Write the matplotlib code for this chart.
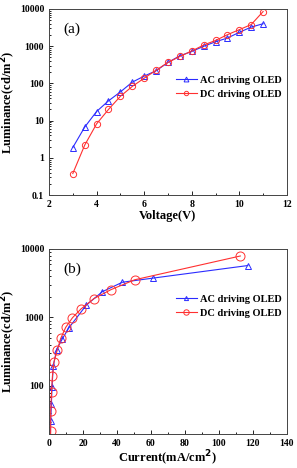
import matplotlib
matplotlib.use('Agg')
import matplotlib.pyplot as plt
from matplotlib.ticker import FixedLocator, FixedFormatter, MultipleLocator, LogLocator, NullFormatter

plt.rcParams['font.family'] = 'Liberation Serif'
plt.rcParams['font.weight'] = 'bold'

# (a) luminance vs voltage
voltage = [3, 3.5, 4, 4.5, 5, 5.5, 6, 6.5, 7, 7.5, 8, 8.5, 9, 9.5, 10, 10.5, 11]
ac_lum_v = [1.9, 6.7, 17.6, 34, 59, 108, 157, 218, 365, 550, 720, 990, 1310, 1650, 2350, 3250, 4000]
dc_lum_v = [0.38, 2.2, 8.2, 20, 45, 83, 138, 225, 365, 530, 740, 1070, 1420, 2030, 2770, 3800, 8500]

# (b) luminance vs current density
ac_current = [0.1, 0.5, 1.0, 1.4, 1.8, 2.5, 4.5, 7.8, 11.6, 22.0, 31.4, 43.2, 61, 117]
ac_lum_i = [3, 12, 31, 54, 98, 195, 340, 485, 700, 1520, 2380, 3270, 3750, 5730]
dc_current = [0.01, 0.1, 0.4, 1.0, 1.0, 1.5, 2.0, 2.9, 4.9, 6.9, 9.8, 13.8, 18.8, 26.5, 36.5, 50.4, 112.6]
dc_lum_i = [0.38, 2.2, 8.2, 22, 43, 83, 138, 223, 336, 495, 715, 990, 1330, 1890, 2550, 3550, 7900]

blue = '#2b2bff'
red = '#ff3030'

fig = plt.figure(figsize=(2.97, 4.68), dpi=100)
ax1 = fig.add_axes([0.165, 0.583, 0.801, 0.398])
ax2 = fig.add_axes([0.165, 0.073, 0.801, 0.395])

for ax in (ax1, ax2):
    ax.set_yscale('log')
    ax.tick_params(which='both', direction='in', labelsize=7, width=0.6)
    ax.tick_params(which='major', length=3)
    ax.tick_params(which='minor', length=1.5)
    ax.yaxis.set_minor_locator(LogLocator(base=10, subs=range(2, 10), numticks=20))
    ax.yaxis.set_minor_formatter(NullFormatter())
    for s in ax.spines.values():
        s.set_linewidth(0.7)
        s.set_color('#444444')

# panel (a)
ax1.plot(voltage, ac_lum_v, '-', color=blue, lw=0.8, marker='^', ms=5,
         mfc='none', mec=blue, mew=0.7, label='AC driving OLED')
ax1.plot(voltage, dc_lum_v, '-', color=red, lw=0.8, marker='o', ms=4.5,
         mfc='none', mec=red, mew=0.7, label='DC driving OLED')
ax1.set_xlim(2, 12)
ax1.set_ylim(0.1, 10000)
ax1.xaxis.set_major_locator(MultipleLocator(2))
ax1.xaxis.set_minor_locator(MultipleLocator(1))
yt1 = [0.1, 1, 10, 100, 1000, 10000]
ax1.yaxis.set_major_locator(FixedLocator(yt1))
ax1.yaxis.set_major_formatter(FixedFormatter(['0.1', '1', '10', '100', '1000', '10000']))
ax1.set_xlabel('Voltage(V)', fontsize=9, fontweight='bold', labelpad=1)
ax1.set_ylabel('Luminance(cd/m$^{\\mathbf{2}}$)', fontsize=9, fontweight='bold', labelpad=1)
ax1.text(0.06, 0.87, '(a)', transform=ax1.transAxes, fontsize=11, fontweight='normal')
ax1.legend(loc='center right', bbox_to_anchor=(1.0, 0.58), frameon=False, fontsize=7.5,
           handlelength=2.0, handletextpad=0.3, labelspacing=0.45, borderaxespad=0.1,
           markerscale=0.7)

# panel (b)
ax2.plot(ac_current, ac_lum_i, '-', color=blue, lw=0.8, marker='^', ms=5,
         mfc='none', mec=blue, mew=0.7, label='AC driving OLED')
ax2.plot(dc_current, dc_lum_i, '-', color=red, lw=0.8, marker='o', ms=6.5,
         mfc='none', mec=red, mew=0.7, label='DC driving OLED')
ax2.set_xlim(0, 140)
ax2.set_ylim(20, 10000)
ax2.xaxis.set_major_locator(MultipleLocator(20))
ax2.xaxis.set_minor_locator(MultipleLocator(10))
yt2 = [100, 1000, 10000]
ax2.yaxis.set_major_locator(FixedLocator(yt2))
ax2.yaxis.set_major_formatter(FixedFormatter(['100', '1000', '10000']))
ax2.set_xlabel('Current(mA/cm$^{\\mathbf{2}}$)', fontsize=9, fontweight='bold', labelpad=1)
ax2.set_ylabel('Luminance(cd/m$^{\\mathbf{2}}$)', fontsize=9, fontweight='bold', labelpad=1)
ax2.text(0.06, 0.87, '(b)', transform=ax2.transAxes, fontsize=11, fontweight='normal')
ax2.legend(loc='center right', bbox_to_anchor=(1.0, 0.69), frameon=False, fontsize=7.5,
           handlelength=2.0, handletextpad=0.3, labelspacing=0.45, borderaxespad=0.1,
           markerscale=0.6)

fig.savefig('out.png', dpi=100)
